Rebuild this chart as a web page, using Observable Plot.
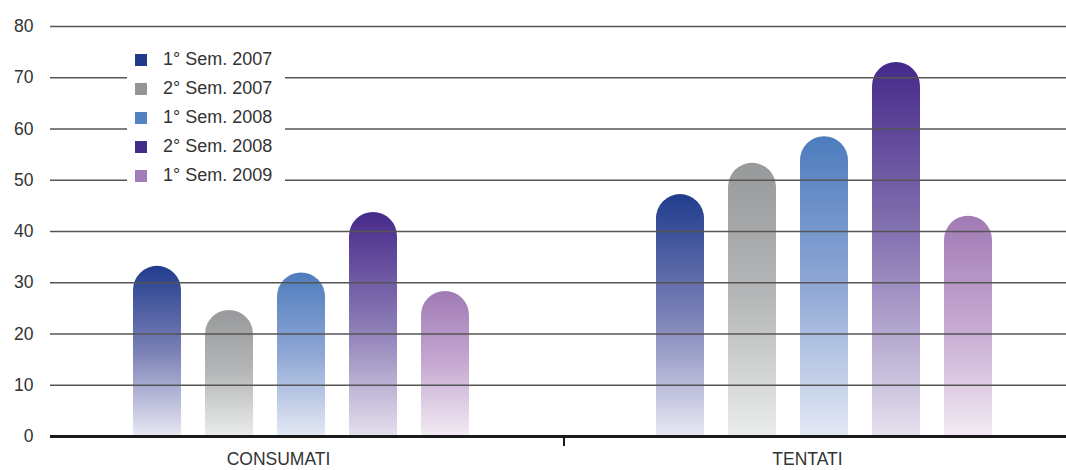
<!DOCTYPE html>
<html><head><meta charset="utf-8">
<script src="https://cdn.jsdelivr.net/npm/d3@7"></script>
<script src="https://cdn.jsdelivr.net/npm/@observablehq/plot@0.6"></script>
<style>
body{margin:0;background:#fff;font-family:"Liberation Sans",Arial,sans-serif;}
#wrap{position:relative;width:1066px;height:470px;}
#legend{position:absolute;left:127px;top:46px;width:158px;height:145px;background:#fff;}
.row{position:absolute;left:0;height:29px;width:158px;}
.sw{position:absolute;left:8px;top:8px;width:12px;height:12px;}
.lab{position:absolute;left:36px;top:3px;font-size:18px;line-height:21px;color:#333;white-space:nowrap;}
</style></head><body>
<div id="wrap"></div>
<script>
const groups = ["CONSUMATI", "TENTATI"];
const series = ["1° Sem. 2007", "2° Sem. 2007", "1° Sem. 2008", "2° Sem. 2008", "1° Sem. 2009"];
const consumati = [33.2, 24.6, 31.9, 43.7, 28.3];
const tentati = [47.2, 53.3, 58.5, 73, 43];
const yTicks = [0, 10, 20, 30, 40, 50, 60, 70, 80];
const legendColors = ["#1f3a8c", "#939598", "#5283c1", "#432b8a", "#a07cb8"];
const gradTop = ["#213c8e", "#98999b", "#4e7cbd", "#46298a", "#a07ab5"];
const gradMid = ["#7a80b6", "#b6b7b8", "#8fa7d5", "#8a7ab5", "#c6a9d2"];
const gradBot = ["#e8e8f4", "#ebecec", "#e4e9f5", "#e6e0ee", "#f2ebf3"];

const data = [];
groups.forEach((g, gi) => series.forEach((s, si) =>
  data.push({group: g, series: s, value: (gi === 0 ? consumati : tentati)[si]})));

const gradIds = series.map((s, i) => "grad" + i);
const groupShift = [-3, 12];
const labelShift = [-26, -5];

const chart = Plot.plot({
  width: 1066, height: 470,
  marginTop: 26, marginBottom: 34, marginLeft: 50, marginRight: 0,
  style: {fontFamily: '"Liberation Sans", Arial, sans-serif', fontSize: "17.5px", color: "#333", background: "white"},
  fx: {domain: groups, padding: 0, label: null, axis: null},
  x: {domain: series, axis: null, paddingInner: 0.34, paddingOuter: 1.15},
  y: {domain: [0, 80], ticks: yTicks, tickSize: 0, tickPadding: 17, label: null},
  color: {domain: series, range: gradIds.map(id => `url(#${id})`)},
  marks: [
    ...groups.map((g, gi) => Plot.barY(data.filter(d => d.group === g),
      {fx: "group", x: "series", y: "value", fill: "series", dx: groupShift[gi], className: "capbar"})),
    Plot.ruleY(yTicks.filter(t => t > 0), {stroke: "#555", strokeWidth: 1.3}),
    Plot.ruleY([0], {stroke: "#1a1a1a", strokeWidth: 3}),
    ...groups.map((g, gi) => Plot.text([g], {fx: d => d, text: d => d, frameAnchor: "bottom",
      lineAnchor: "top", dy: 16, dx: labelShift[gi], fill: "#333", fontSize: 17.5}))
  ]
});

const svg = d3.select(chart);
const defs = svg.insert("defs", ":first-child");
gradIds.forEach((id, i) => {
  const lg = defs.append("linearGradient").attr("id", id)
    .attr("x1", 0).attr("y1", 0).attr("x2", 0).attr("y2", 1);
  lg.append("stop").attr("offset", 0).attr("stop-color", gradTop[i]);
  lg.append("stop").attr("offset", 0.5).attr("stop-color", gradMid[i]);
  lg.append("stop").attr("offset", 1).attr("stop-color", gradBot[i]);
});

// round the bar tops
chart.querySelectorAll(".capbar rect").forEach(rect => {
  const x = +rect.getAttribute("x"), y = +rect.getAttribute("y");
  const w = +rect.getAttribute("width"), h = +rect.getAttribute("height");
  const r = Math.min(w / 2, h);
  const p = document.createElementNS("http://www.w3.org/2000/svg", "path");
  p.setAttribute("d", `M${x},${y + h}V${y + r}A${w / 2},${r} 0 0 1 ${x + w},${y + r}V${y + h}Z`);
  p.setAttribute("fill", rect.getAttribute("fill"));
  rect.parentNode.replaceChild(p, rect);
});

// divider tick between groups
const fx = chart.scale("fx");
const yS = chart.scale("y");
const bx = fx.apply(groups[1]) + 6;
svg.append("line").attr("x1", bx).attr("x2", bx)
  .attr("y1", yS.apply(0)).attr("y2", yS.apply(0) + 10)
  .attr("stroke", "#1a1a1a").attr("stroke-width", 2);

const wrap = document.getElementById("wrap");
wrap.appendChild(chart);

const legend = document.createElement("div");
legend.id = "legend";
series.forEach((s, i) => {
  const row = document.createElement("div");
  row.className = "row";
  row.style.top = (i * 29) + "px";
  row.innerHTML = `<div class="sw" style="background:${legendColors[i]}"></div><div class="lab">${s}</div>`;
  legend.appendChild(row);
});
wrap.appendChild(legend);
</script>
</body></html>
